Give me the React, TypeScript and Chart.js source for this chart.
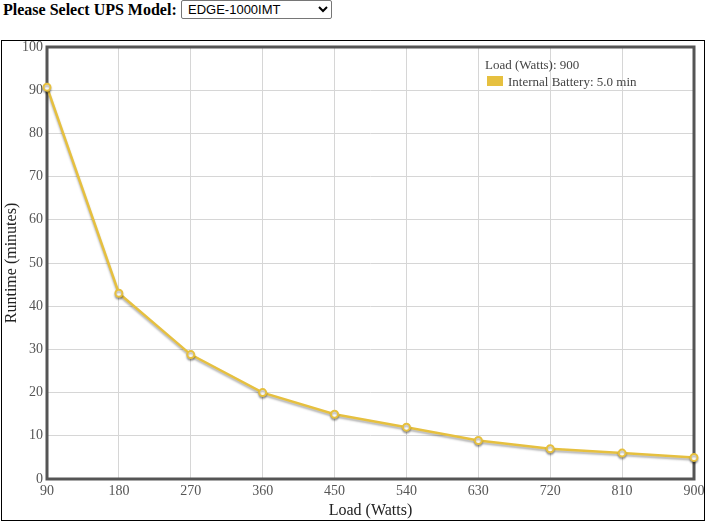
import React, { useEffect, useRef } from "react";
import { Chart, registerables } from "chart.js";

Chart.register(...registerables);

const loadWatts = [90, 180, 270, 360, 450, 540, 630, 720, 810, 900];
const runtimeMinutes = [90.7, 43, 28.8, 20, 15, 12, 8.9, 7, 6, 5];
const upsModels = ["EDGE-1000IMT", "EDGE-1500IMT", "EDGE-2000IMT"];
const seriesName = "Internal Battery";
const xTitle = "Load (Watts)";
const yTitle = "Runtime (minutes)";

const LINE = "#e6c03f";
const SERIF = '"Times New Roman", "Liberation Serif", serif';

export default function App() {
  const ref = useRef<HTMLCanvasElement | null>(null);

  useEffect(() => {
    if (!ref.current) return;
    const lastX = loadWatts[loadWatts.length - 1];
    const lastY = runtimeMinutes[runtimeMinutes.length - 1];

    const framePlugin = {
      id: "frame",
      beforeDatasetsDraw(chart: any) {
        const { ctx, chartArea: a } = chart;
        ctx.save();
        ctx.strokeStyle = "#555555";
        ctx.lineWidth = 3;
        ctx.strokeRect(a.left, a.top, a.right - a.left, a.bottom - a.top);
        ctx.restore();
        ctx.save();
        ctx.shadowColor = "rgba(0,0,0,0.3)";
        ctx.shadowOffsetX = 0;
        ctx.shadowOffsetY = 2;
        ctx.shadowBlur = 2;
      },
      afterDatasetsDraw(chart: any) {
        chart.ctx.restore();
      },
      afterDraw(chart: any) {
        const { ctx } = chart;
        ctx.save();
        ctx.font = `13px ${SERIF}`;
        ctx.fillStyle = "#444";
        ctx.textBaseline = "alphabetic";
        ctx.textAlign = "left";
        ctx.fillText(`${xTitle}: ${lastX}`, 483, 28);
        ctx.fillStyle = LINE;
        ctx.fillRect(485, 35, 16, 10);
        ctx.fillStyle = "#444";
        ctx.fillText(`${seriesName}: ${lastY.toFixed(1)} min`, 506, 45);
        ctx.restore();
      },
    };

    const chart = new Chart(ref.current, {
      type: "line",
      data: {
        datasets: [
          {
            label: seriesName,
            data: loadWatts.map((x, i) => ({ x, y: runtimeMinutes[i] })),
            borderColor: LINE,
            borderWidth: 2.5,
            backgroundColor: "#ffffff",
            pointBackgroundColor: "#ffffff",
            pointBorderColor: LINE,
            pointBorderWidth: 2,
            pointRadius: 3.5,
            tension: 0,
            fill: false,
            clip: false as any,
          },
        ],
      },
      options: {
        animation: false,
        responsive: false,
        events: [],
        layout: { padding: { top: 6, right: 10, left: 0, bottom: 0 } },
        plugins: { legend: { display: false }, tooltip: { enabled: false } },
        scales: {
          x: {
            type: "linear",
            min: 90,
            max: 900,
            afterFit(s: any) {
              s.height = 41;
              s.paddingLeft = 0;
              s.paddingRight = 0;
            },
            border: { display: false },
            grid: { color: "#d6d6d6", lineWidth: 1, drawTicks: false },
            ticks: {
              stepSize: 90,
              padding: 4,
              color: "#555",
              font: { family: SERIF, size: 14 },
              maxRotation: 0,
            },
            title: {
              display: true,
              text: xTitle,
              color: "#222",
              font: { family: SERIF, size: 16 },
              padding: { top: 0, bottom: 0 },
            },
          },
          y: {
            min: 0,
            max: 100,
            afterFit(s: any) {
              s.width = 45;
              s.paddingTop = 0;
              s.paddingBottom = 0;
            },
            border: { display: false },
            grid: { color: "#d6d6d6", lineWidth: 1, drawTicks: false },
            ticks: {
              stepSize: 10,
              padding: 4,
              color: "#555",
              font: { family: SERIF, size: 14 },
            },
            title: {
              display: true,
              text: yTitle,
              color: "#222",
              font: { family: SERIF, size: 16 },
              padding: { top: 0, bottom: 0 },
            },
          },
        },
      },
      plugins: [framePlugin],
    } as any);
    return () => chart.destroy();
  }, []);

  return (
    <div style={{ position: "relative", width: 708, height: 526 }}>
      <style>{`body{margin:0}`}</style>
      <span
        style={{
          position: "absolute",
          left: 3,
          top: 0,
          font: `bold 16px ${SERIF}`,
          lineHeight: "19px",
          color: "#000",
          whiteSpace: "nowrap",
        }}
      >
        Please Select UPS Model:
      </span>
      <select
        defaultValue={upsModels[0]}
        style={{
          position: "absolute",
          left: 181,
          top: 0,
          width: 151,
          height: 19,
          font: "13px Arial, 'Liberation Sans', sans-serif",
          border: "1px solid #767676",
          borderRadius: 2,
          background: "#fff",
          padding: "0 0 0 2px",
        }}
      >
        {upsModels.map((m) => (
          <option key={m} value={m}>
            {m}
          </option>
        ))}
      </select>
      <div
        style={{
          position: "absolute",
          left: 1,
          top: 40,
          width: 704,
          height: 481,
          border: "1px solid #000",
          boxSizing: "border-box",
        }}
      >
        <canvas ref={ref} width={702} height={479} style={{ display: "block" }} />
      </div>
    </div>
  );
}
